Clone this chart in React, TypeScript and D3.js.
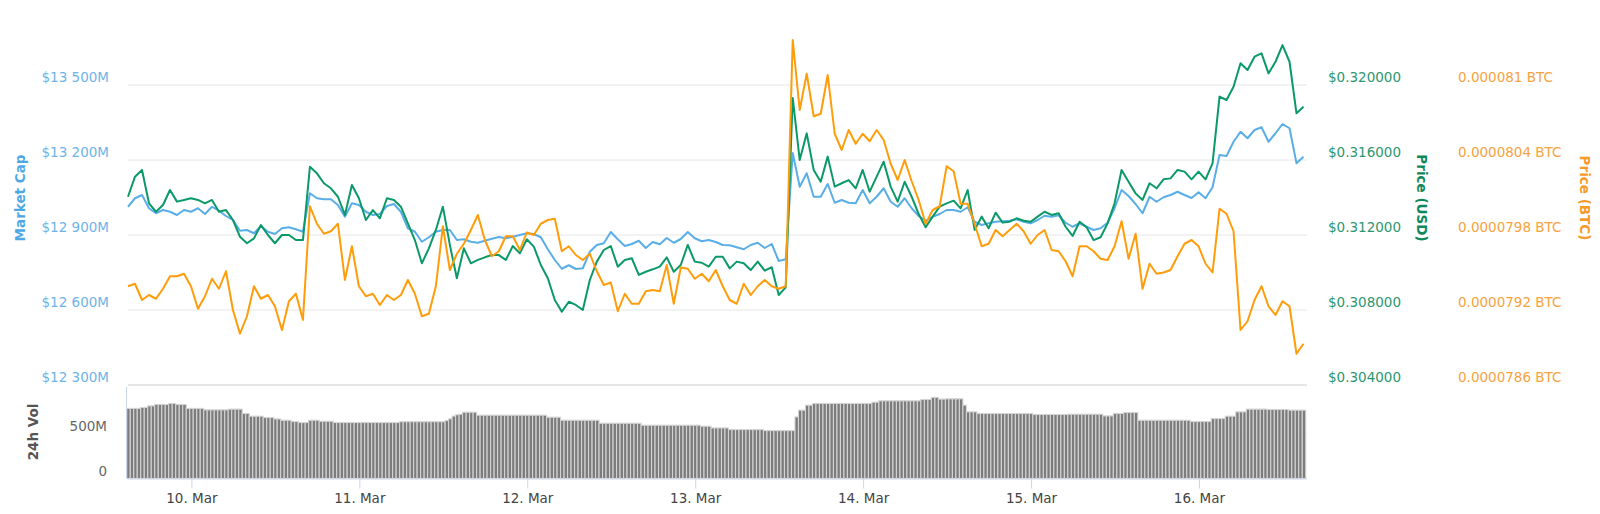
import React from 'react';
import * as d3 from 'd3';

const START = Date.UTC(2019, 2, 9, 14, 52);
const END = START + 168.5 * 3600000;
const HOUR = 3600000;
const HALF_HOUR = 1800000;

// Market cap, millions USD (hourly)
const marketCapM = [
  13013, 13047, 13060, 13007, 12987, 13000, 12993, 12980, 13000, 12993, 13007, 12984, 13013, 12997, 12976, 12960,
  12917, 12920, 12907, 12936, 12913, 12904, 12927, 12931, 12923, 12913, 13067, 13047, 13043, 13043, 13020, 12973,
  13027, 13020, 12993, 12980, 12984, 13016, 13024, 12993, 12927, 12913, 12873,
  12891, 12913, 12920, 12920, 12880, 12883, 12873, 12869, 12877, 12885, 12892, 12887, 12893, 12900, 12907, 12904,
  12891, 12843, 12800, 12765, 12779, 12764, 12767, 12833, 12860, 12867, 12912, 12883, 12856, 12864, 12877, 12848,
  12872, 12863, 12888, 12869, 12884, 12912, 12887, 12875, 12880, 12872, 12860, 12859, 12851, 12843, 12860, 12869,
  12848, 12864, 12796, 12803,
  13228,
  13093, 13147, 13053, 13053, 13104, 13029, 13040, 13029, 13027, 13080, 13027, 13053, 13087, 13033, 13013, 13047,
  13007, 12976, 12957, 12973, 12984, 13000, 13000, 12993, 13011, 12953, 12940, 12947, 12953, 12955, 12957, 12963,
  12953, 12947, 12960, 12977, 12973, 12979, 12949, 12933, 12947, 12933, 12920, 12927, 12949, 13007, 13080, 13056,
  13024, 12987, 13053, 13033, 13051, 13060, 13073, 13060, 13048, 13071, 13047, 13091, 13220, 13216, 13273, 13313,
  13287, 13320, 13331, 13273, 13307, 13344, 13327, 13187, 13213,
];

// Price in USD (hourly)
const priceUsd = [
  0.31404, 0.31511, 0.31547, 0.31369, 0.31324, 0.3136, 0.3144, 0.31378, 0.31387, 0.31396, 0.31387, 0.31369, 0.31387,
  0.31324, 0.31333, 0.3128, 0.31191, 0.31156, 0.31182, 0.31253, 0.312, 0.31156, 0.312, 0.312, 0.31173, 0.31173,
  0.31564, 0.31529, 0.31476, 0.31449, 0.31404, 0.31307, 0.31467, 0.31396, 0.3128, 0.31333, 0.31289, 0.31396, 0.31387,
  0.31351, 0.31262, 0.31173, 0.31049,
  0.31129, 0.31227, 0.31351, 0.31147, 0.30969, 0.31129, 0.31049, 0.31067, 0.31081, 0.31093, 0.31093, 0.31067, 0.31141,
  0.31102, 0.31177, 0.31138, 0.3104, 0.30969, 0.30853, 0.30791, 0.30844, 0.30827, 0.308, 0.3096, 0.31058, 0.3112,
  0.31141, 0.31031, 0.31067, 0.31076, 0.30987, 0.31004, 0.31017, 0.31031, 0.31081, 0.31004, 0.3104, 0.31147, 0.31058,
  0.31052, 0.31031, 0.31084, 0.31084, 0.31022, 0.31058, 0.31049, 0.31013, 0.31058, 0.3101, 0.31028, 0.3088, 0.30921,
  0.31931,
  0.316, 0.31742, 0.31547, 0.31484, 0.31618, 0.31458, 0.31476, 0.31493, 0.31449, 0.31547, 0.31431, 0.31511, 0.31591,
  0.31458, 0.31378, 0.31484, 0.31404, 0.31312, 0.31241, 0.31298, 0.31351, 0.31369, 0.31383, 0.31342, 0.3144, 0.31227,
  0.31298, 0.31236, 0.31319, 0.31266, 0.31271, 0.31289,
  0.31276, 0.31271, 0.31298, 0.31324, 0.31307, 0.31316, 0.31244, 0.31195, 0.31271, 0.31241, 0.31173, 0.31188, 0.31262,
  0.31369, 0.31547, 0.31484, 0.31422, 0.31387, 0.31476, 0.31449, 0.31497, 0.31502, 0.31547, 0.31538, 0.31497, 0.31538,
  0.31497, 0.31582, 0.31938, 0.3192, 0.31991, 0.32116, 0.3208, 0.32151, 0.32169, 0.32062, 0.32124, 0.32213, 0.32124,
  0.31849, 0.31884,
];

// Price in BTC (hourly)
const priceBtc = [
  7.939e-5, 7.941e-5, 7.928e-5, 7.932e-5, 7.929e-5, 7.937e-5, 7.947e-5, 7.947e-5, 7.949e-5, 7.939e-5, 7.921e-5,
  7.931e-5, 7.945e-5, 7.937e-5, 7.951e-5, 7.92e-5, 7.901e-5, 7.915e-5, 7.939e-5, 7.929e-5, 7.932e-5, 7.923e-5,
  7.904e-5, 7.927e-5, 7.933e-5, 7.912e-5, 8.003e-5, 7.989e-5, 7.981e-5, 7.983e-5, 7.989e-5, 7.944e-5, 7.971e-5,
  7.939e-5, 7.931e-5, 7.933e-5, 7.924e-5, 7.932e-5, 7.928e-5, 7.932e-5, 7.944e-5, 7.933e-5, 7.915e-5,
  7.917e-5, 7.939e-5, 7.987e-5, 7.952e-5, 7.965e-5, 7.973e-5, 7.984e-5, 7.996e-5, 7.976e-5, 7.963e-5, 7.967e-5,
  7.979e-5, 7.979e-5, 7.968e-5, 7.982e-5, 7.98e-5, 7.989e-5, 7.992e-5, 7.993e-5, 7.967e-5, 7.971e-5, 7.964e-5,
  7.96e-5, 7.965e-5, 7.951e-5, 7.94e-5, 7.942e-5, 7.919e-5, 7.933e-5, 7.925e-5, 7.925e-5, 7.935e-5, 7.936e-5,
  7.935e-5, 7.956e-5, 7.925e-5, 7.954e-5, 7.953e-5, 7.945e-5, 7.949e-5, 7.943e-5, 7.952e-5, 7.939e-5, 7.928e-5,
  7.925e-5, 7.941e-5, 7.932e-5, 7.939e-5, 7.944e-5, 7.939e-5, 7.937e-5, 7.939e-5,
  8.136e-5,
  8.08e-5, 8.109e-5, 8.075e-5, 8.077e-5, 8.108e-5, 8.061e-5, 8.048e-5, 8.064e-5, 8.053e-5, 8.061e-5, 8.055e-5,
  8.064e-5, 8.056e-5, 8.037e-5, 8.024e-5, 8.04e-5, 8.023e-5, 8.008e-5, 7.989e-5, 8.0e-5, 8.003e-5, 8.035e-5,
  8.031e-5, 8.005e-5, 8.005e-5, 7.989e-5, 7.971e-5, 7.973e-5, 7.984e-5, 7.979e-5, 7.984e-5, 7.989e-5,
  7.983e-5, 7.973e-5, 7.98e-5, 7.984e-5, 7.968e-5, 7.967e-5, 7.959e-5, 7.947e-5, 7.971e-5, 7.971e-5, 7.967e-5,
  7.961e-5, 7.96e-5, 7.971e-5, 7.991e-5, 7.961e-5, 7.981e-5, 7.937e-5, 7.957e-5, 7.949e-5, 7.95e-5, 7.952e-5,
  7.963e-5, 7.973e-5, 7.976e-5, 7.971e-5, 7.957e-5, 7.95e-5, 8.001e-5, 7.997e-5, 7.983e-5, 7.904e-5, 7.911e-5,
  7.928e-5, 7.939e-5, 7.923e-5, 7.916e-5, 7.927e-5, 7.923e-5, 7.885e-5, 7.893e-5,
];

// 24h volume, millions USD (half-hourly)
const volume24hM = [
  775, 775, 775, 775, 786, 786, 803, 803, 819, 819, 819, 819, 830, 830, 819, 819, 819,
  775, 775, 775, 775, 775,
  759, 759, 759, 759, 759, 759, 759,
  767, 767, 767, 767,
  719, 719,
  689, 689, 689, 689,
  674, 674, 674,
  659, 659,
  644, 644, 644,
  630, 630,
  619, 619, 619,
  644, 644, 644,
  633, 633, 633, 633,
  619, 619, 619, 619, 619, 619, 619, 619, 619, 619, 619, 619, 619, 619, 619, 619, 619, 619, 619,
  628, 628, 628, 628, 628, 628, 628, 628, 628, 628, 628, 628, 628,
  640, 660, 690, 705, 711,
  733, 733, 733, 733,
  700, 700, 700, 700, 700, 700, 700, 700, 700, 700, 700, 700, 700, 700, 700, 700, 700, 700, 700, 700,
  678, 678, 678, 678,
  644, 644, 644, 644, 644, 644, 644, 644, 644, 644, 644,
  611, 611, 611, 611, 611, 611, 611, 611, 611, 611, 611, 611,
  589, 589, 589, 589, 589, 589, 589, 589, 589, 589, 589, 589, 589, 589, 589, 589, 589,
  578, 578, 578,
  559, 559, 559, 559, 559,
  541, 541, 541, 541, 541, 541, 541, 541, 541, 541,
  530, 530, 530, 530, 530, 530, 530, 530, 530,
  681,
  756, 756,
  811, 811,
  830, 830, 830, 830, 830, 830, 830, 830, 830, 830, 830, 830, 830, 830, 830, 830, 830,
  844, 844,
  859, 859, 859, 859, 859, 859, 859, 859, 859, 859, 859, 859,
  874, 874, 874,
  897, 897,
  878, 878,
  881, 881, 881, 881, 881,
  811,
  737, 737, 737,
  719, 719, 719, 719, 719, 719, 719, 719, 719, 719, 719, 719, 719, 719, 719, 719,
  708, 708, 708, 708, 708, 708, 708, 708, 708, 708,
  711, 711, 711, 711, 711, 711, 711, 711, 711, 711,
  692, 692, 692,
  719, 719, 719,
  730, 730, 730, 730,
  644, 644, 644, 644, 644, 644, 644, 644, 644, 644, 644, 644, 644, 644, 644,
  630, 630, 630, 630, 630, 630,
  663, 663, 663, 663,
  689, 689, 689,
  737, 737, 737,
  767, 767, 767, 767, 767, 767,
  763, 763, 763, 763, 763, 763,
  756, 756, 756, 756, 756,
];

const capTicks = [12300, 12600, 12900, 13200, 13500];
const capTickLabels = ['$12 300M', '$12 600M', '$12 900M', '$13 200M', '$13 500M'];
const usdTicks = [0.304, 0.308, 0.312, 0.316, 0.32];
const usdTickLabels = ['$0.304000', '$0.308000', '$0.312000', '$0.316000', '$0.320000'];
const btcTicks = [0.0000786, 0.0000792, 0.0000798, 0.0000804, 0.000081];
const btcTickLabels = ['0.0000786 BTC', '0.0000792 BTC', '0.0000798 BTC', '0.0000804 BTC', '0.000081 BTC'];
const volTicks = [0, 500];
const volTickLabels = ['0', '500M'];
const dayTicks = [10, 11, 12, 13, 14, 15, 16].map((d) => Date.UTC(2019, 2, d));
const dayTickLabels = ['10. Mar', '11. Mar', '12. Mar', '13. Mar', '14. Mar', '15. Mar', '16. Mar'];

const COLORS = {
  cap: '#5aaee8',
  usd: '#0b9968',
  btc: '#ff9c0a',
  capText: '#6fb3e8',
  capTitle: '#4fa8e6',
  usdText: '#2d9670',
  usdTitle: '#10875a',
  btcText: '#f7a23e',
  btcTitle: '#f79a2c',
  grid: '#e6e6e6',
  axis: '#ccd6eb',
};

const FONT = 'DejaVu Sans, Verdana, sans-serif';

export default function App() {
  const W = 1600;
  const H = 514;
  const x = d3.scaleUtc().domain([START, END]).range([128, 1307]);
  const yCap = d3.scaleLinear().domain([12300, 13500]).range([385, 85]);
  const yUsd = d3.scaleLinear().domain([0.304, 0.32]).range([385, 85]);
  const yBtc = d3.scaleLinear().domain([0.0000786, 0.000081]).range([385, 85]);
  const yVol = d3.scaleLinear().domain([0, 500]).range([478.5, 433.3]);

  const tAt = (i: number) => START + i * HOUR;
  const capLine = d3.line<number>().x((_, i) => x(tAt(i))).y((d) => yCap(d))(marketCapM) || '';
  const usdLine = d3.line<number>().x((_, i) => x(tAt(i))).y((d) => yUsd(d))(priceUsd) || '';
  const btcLine = d3.line<number>().x((_, i) => x(tAt(i))).y((d) => yBtc(d))(priceBtc) || '';

  const barW = 3.5;
  const [x0, x1] = x.range();

  return (
    <svg
      width={W}
      height={H}
      style={{ position: 'absolute', left: 0, top: 0, background: '#fff' }}
      fontFamily={FONT}
    >
      {/* main pane gridlines */}
      {capTicks.map((t, i) => (
        <line key={'g' + i} x1={x0} x2={x1} y1={yCap(t)} y2={yCap(t)} stroke={COLORS.grid} strokeWidth={i === 0 ? 2 : 1} />
      ))}
      {/* volume pane gridline */}
      <line x1={x0} x2={x1} y1={yVol(500)} y2={yVol(500)} stroke={COLORS.grid} strokeWidth={1} />

      {/* volume bars */}
      {volume24hM.map((v, i) => {
        const cx = x(START + i * HALF_HOUR);
        const y = yVol(v);
        return (
          <rect
            key={'b' + i}
            x={cx - barW / 2 + 0.5}
            y={y}
            width={barW}
            height={yVol(0) - y}
            fill="#7c7c7c"
            stroke="#d4d4d4"
            strokeWidth={1.1}
          />
        );
      })}

      {/* axis lines */}
      <line x1={126.5} x2={126.5} y1={387} y2={yVol(0)} stroke={COLORS.axis} strokeWidth={1} />
      <line x1={x0} x2={x1} y1={yVol(0) + 0.5} y2={yVol(0) + 0.5} stroke={COLORS.axis} strokeWidth={1} />
      {dayTicks.map((t, i) => (
        <line key={'t' + i} x1={x(t)} x2={x(t)} y1={yVol(0)} y2={yVol(0) + 10} stroke={COLORS.axis} strokeWidth={1} />
      ))}
      {dayTicks.map((t, i) => (
        <text key={'tl' + i} x={x(t)} y={502.5} textAnchor="middle" fontSize={13.5} fill="#444">
          {dayTickLabels[i]}
        </text>
      ))}

      {/* lines */}
      <path d={capLine} fill="none" stroke={COLORS.cap} strokeWidth={2} strokeLinejoin="round" />
      <path d={usdLine} fill="none" stroke={COLORS.usd} strokeWidth={2} strokeLinejoin="round" />
      <path d={btcLine} fill="none" stroke={COLORS.btc} strokeWidth={2} strokeLinejoin="round" />

      {/* left axis labels */}
      {capTicks.map((t, i) => (
        <text key={'cl' + i} x={109} y={yCap(t) - 3} textAnchor="end" fontSize={13.5} fill={COLORS.capText}>
          {capTickLabels[i]}
        </text>
      ))}
      <text
        transform="translate(25,198) rotate(-90)"
        textAnchor="middle"
        fontSize={13.5}
        fontWeight="bold"
        fill={COLORS.capTitle}
      >
        Market Cap
      </text>

      {/* volume axis labels */}
      {volTicks.map((t, i) => (
        <text key={'vl' + i} x={107} y={yVol(t) - 2.5} textAnchor="end" fontSize={13.5} fill="#666">
          {volTickLabels[i]}
        </text>
      ))}
      <text
        transform="translate(38,432) rotate(-90)"
        textAnchor="middle"
        fontSize={13.5}
        fontWeight="bold"
        fill="#555"
      >
        24h Vol
      </text>

      {/* right axes */}
      {usdTicks.map((t, i) => (
        <text key={'ul' + i} x={1328} y={yUsd(t) - 3} textAnchor="start" fontSize={13.5} fill={COLORS.usdText}>
          {usdTickLabels[i]}
        </text>
      ))}
      <text
        transform="translate(1417,198) rotate(90)"
        textAnchor="middle"
        fontSize={13.5}
        fontWeight="bold"
        fill={COLORS.usdTitle}
      >
        Price (USD)
      </text>
      {btcTicks.map((t, i) => (
        <text key={'bl' + i} x={1458} y={yBtc(t) - 3} textAnchor="start" fontSize={13.5} fill={COLORS.btcText}>
          {btcTickLabels[i]}
        </text>
      ))}
      <text
        transform="translate(1580,198) rotate(90)"
        textAnchor="middle"
        fontSize={13.5}
        fontWeight="bold"
        fill={COLORS.btcTitle}
      >
        Price (BTC)
      </text>
    </svg>
  );
}
